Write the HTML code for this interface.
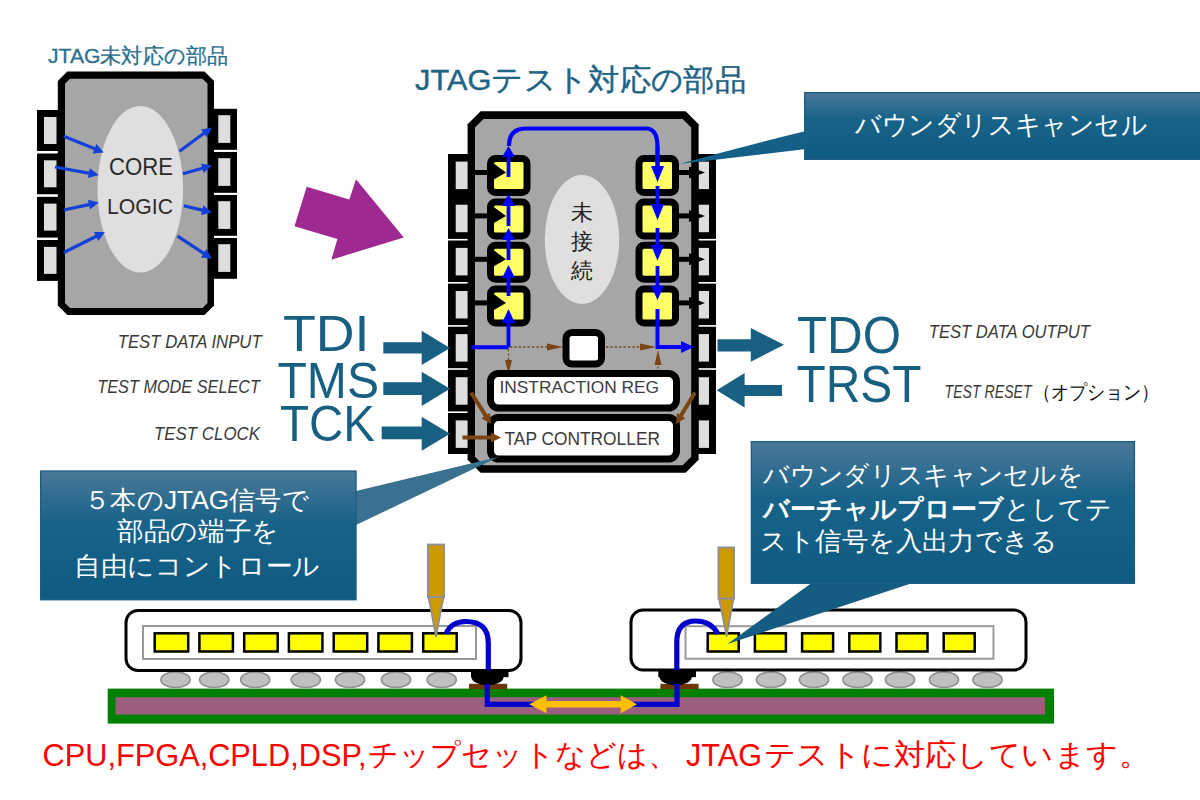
<!DOCTYPE html>
<html><head><meta charset="utf-8"><style>
html,body{margin:0;padding:0;background:#fff;}
svg{display:block;}
</style></head><body>
<svg width="1200" height="800" viewBox="0 0 1200 800">
<rect width="1200" height="800" fill="#fff"/>
<defs>
<linearGradient id="cg" x1="0" y1="0" x2="0" y2="1">
<stop offset="0" stop-color="#4b7897"/><stop offset="0.4" stop-color="#176389"/><stop offset="1" stop-color="#0f5a80"/>
</linearGradient>
</defs>
<g id="chipA">
<rect x="37" y="110.0" width="24" height="41" fill="#000"/>
<rect x="44" y="117.0" width="12.5" height="27" fill="#dedede"/>
<rect x="37" y="153.3" width="24" height="41" fill="#000"/>
<rect x="44" y="160.3" width="12.5" height="27" fill="#dedede"/>
<rect x="37" y="151.5" width="21" height="1.8" fill="#fff"/>
<rect x="37" y="196.6" width="24" height="41" fill="#000"/>
<rect x="44" y="203.6" width="12.5" height="27" fill="#dedede"/>
<rect x="37" y="194.8" width="21" height="1.8" fill="#fff"/>
<rect x="37" y="239.9" width="24" height="41" fill="#000"/>
<rect x="44" y="246.9" width="12.5" height="27" fill="#dedede"/>
<rect x="37" y="238.1" width="21" height="1.8" fill="#fff"/>
<rect x="210" y="108.8" width="27" height="41" fill="#000"/>
<rect x="218.3" y="115.2" width="12" height="27.7" fill="#dedede"/>
<rect x="210" y="151.8" width="27" height="41" fill="#000"/>
<rect x="218.3" y="158.2" width="12" height="27.7" fill="#dedede"/>
<rect x="214" y="150.2" width="23" height="1.6" fill="#fff"/>
<rect x="210" y="194.8" width="27" height="41" fill="#000"/>
<rect x="218.3" y="201.2" width="12" height="27.7" fill="#dedede"/>
<rect x="214" y="193.2" width="23" height="1.6" fill="#fff"/>
<rect x="210" y="237.8" width="27" height="41" fill="#000"/>
<rect x="218.3" y="244.2" width="12" height="27.7" fill="#dedede"/>
<rect x="214" y="236.2" width="23" height="1.6" fill="#fff"/>
<polygon points="67.3,71.6 204.5,71.6 214,81.1 214,305.5 204.5,315 67.3,315 57.8,305.5 57.8,81.1" fill="#000"/>
<polygon points="70,78.8 202.5,78.8 207.5,83.8 207.5,303 202.5,308 70,308 65,303 65,83.8" fill="#a6a6a6"/>
<ellipse cx="140.3" cy="189.3" rx="42.8" ry="83.3" fill="#dfdfdf"/>
<text x="109" y="174.5" font-family='"Liberation Sans", sans-serif' font-size="23" fill="#2a2a2a" textLength="64" lengthAdjust="spacingAndGlyphs">CORE</text>
<text x="107" y="213.8" font-family='"Liberation Sans", sans-serif' font-size="22" fill="#2a2a2a" textLength="66" lengthAdjust="spacingAndGlyphs">LOGIC</text>
<line x1="63.8" y1="136.2" x2="95.4" y2="149.1" stroke="#1340d8" stroke-width="3.2"/><polygon points="103.8,152.5 92.6,153.4 96.4,144.1" fill="#1340d8"/>
<line x1="55.0" y1="167.0" x2="89.9" y2="173.4" stroke="#1340d8" stroke-width="3.2"/><polygon points="98.8,175.0 88.0,178.1 89.8,168.3" fill="#1340d8"/>
<line x1="63.8" y1="210.0" x2="89.9" y2="204.4" stroke="#1340d8" stroke-width="3.2"/><polygon points="98.8,202.5 90.0,209.5 87.9,199.7" fill="#1340d8"/>
<line x1="63.8" y1="252.5" x2="96.9" y2="236.0" stroke="#1340d8" stroke-width="3.2"/><polygon points="105.0,232.0 98.3,240.9 93.8,232.0" fill="#1340d8"/>
<line x1="179.5" y1="151.2" x2="204.7" y2="132.8" stroke="#1340d8" stroke-width="3.2"/><polygon points="212.0,127.5 206.9,137.4 201.0,129.4" fill="#1340d8"/>
<line x1="183.0" y1="173.8" x2="203.3" y2="168.0" stroke="#1340d8" stroke-width="3.2"/><polygon points="212.0,165.5 203.7,173.0 201.0,163.4" fill="#1340d8"/>
<line x1="183.8" y1="205.8" x2="203.2" y2="210.4" stroke="#1340d8" stroke-width="3.2"/><polygon points="212.0,212.5 201.1,215.0 203.4,205.3" fill="#1340d8"/>
<line x1="177.5" y1="236.2" x2="204.5" y2="253.8" stroke="#1340d8" stroke-width="3.2"/><polygon points="212.0,258.8 200.9,257.5 206.4,249.1" fill="#1340d8"/>
</g>
<text x="48" y="63.3" font-family='"Liberation Sans", sans-serif' font-size="21" fill="#2a6f8f" stroke="#2a6f8f" stroke-width="0.3" textLength="180" lengthAdjust="spacingAndGlyphs">JTAG未対応の部品</text>
<text x="415" y="89.8" font-family='"Liberation Sans", sans-serif' font-size="29.5" fill="#1f6385" stroke="#1f6385" stroke-width="0.4" textLength="331" lengthAdjust="spacingAndGlyphs">JTAGテスト対応の部品</text>
<polygon points="306.7,186.8 349.3,199.6 356,179.3 403.75,237.5 331.4,259.7 337.4,239 294.5,226.25" fill="#9e2a91"/>
<g id="chipB">
<rect x="448" y="154" width="30" height="300" fill="#000"/>
<rect x="688" y="154" width="28" height="300" fill="#000"/>
<rect x="455.7" y="161.6" width="12.5" height="27.5" fill="#dedede"/>
<rect x="698.5" y="161.6" width="10.5" height="27.5" fill="#dedede"/>
<rect x="455.7" y="204.7" width="12.5" height="27.5" fill="#dedede"/>
<rect x="698.5" y="204.7" width="10.5" height="27.5" fill="#dedede"/>
<rect x="455.7" y="247.9" width="12.5" height="27.5" fill="#dedede"/>
<rect x="698.5" y="247.9" width="10.5" height="27.5" fill="#dedede"/>
<rect x="448" y="238.9" width="20" height="1.6" fill="#fff"/>
<rect x="698" y="238.9" width="18" height="1.6" fill="#fff"/>
<rect x="455.7" y="291.0" width="12.5" height="27.5" fill="#dedede"/>
<rect x="698.5" y="291.0" width="10.5" height="27.5" fill="#dedede"/>
<rect x="448" y="282.0" width="20" height="1.6" fill="#fff"/>
<rect x="698" y="282.0" width="18" height="1.6" fill="#fff"/>
<rect x="455.7" y="334.1" width="12.5" height="27.5" fill="#dedede"/>
<rect x="698.5" y="334.1" width="10.5" height="27.5" fill="#dedede"/>
<rect x="448" y="325.1" width="20" height="1.6" fill="#fff"/>
<rect x="698" y="325.1" width="18" height="1.6" fill="#fff"/>
<rect x="455.7" y="377.2" width="12.5" height="27.5" fill="#dedede"/>
<rect x="698.5" y="377.2" width="10.5" height="27.5" fill="#dedede"/>
<rect x="448" y="368.2" width="20" height="1.6" fill="#fff"/>
<rect x="698" y="368.2" width="18" height="1.6" fill="#fff"/>
<rect x="455.7" y="420.4" width="12.5" height="27.5" fill="#dedede"/>
<rect x="698.5" y="420.4" width="10.5" height="27.5" fill="#dedede"/>
<rect x="448" y="411.4" width="20" height="1.6" fill="#fff"/>
<polygon points="480.6,111.3 685.6,111.3 698.6,124.3 698.6,459.7 685.6,472.7 480.6,472.7 467.6,459.7 467.6,124.3" fill="#000"/>
<polygon points="483.5,118.9 682.7,118.9 691.2,127.4 691.2,456.7 682.7,465.2 483.5,465.2 475,456.7 475,127.4" fill="#a6a6a6"/>
<ellipse cx="582" cy="239.5" rx="37.2" ry="64.5" fill="#dfdfdf"/>
<text x="582" y="220" font-family='"Liberation Sans", sans-serif' font-size="22" fill="#222" text-anchor="middle">未</text>
<text x="582" y="249" font-family='"Liberation Sans", sans-serif' font-size="22" fill="#222" text-anchor="middle">接</text>
<text x="582" y="278" font-family='"Liberation Sans", sans-serif' font-size="22" fill="#222" text-anchor="middle">続</text>
<rect x="474" y="170.0" width="16" height="5" fill="#000"/>
<rect x="677" y="170.0" width="16" height="5" fill="#000"/>
<rect x="490.5" y="158.5" width="36.5" height="34" rx="5" fill="#ffff66" stroke="#000" stroke-width="7"/>
<rect x="639.0" y="158.5" width="36.5" height="34" rx="5" fill="#ffff66" stroke="#000" stroke-width="7"/>
<polygon points="493,163.0 506,172.5 493,180.0" fill="#000"/>
<polygon points="689,166.5 705,172.5 689,178.5" fill="#000"/>
<rect x="474" y="213.4" width="16" height="5" fill="#000"/>
<rect x="677" y="213.4" width="16" height="5" fill="#000"/>
<rect x="490.5" y="201.9" width="36.5" height="34" rx="5" fill="#ffff66" stroke="#000" stroke-width="7"/>
<rect x="639.0" y="201.9" width="36.5" height="34" rx="5" fill="#ffff66" stroke="#000" stroke-width="7"/>
<polygon points="493,206.4 506,215.9 493,223.4" fill="#000"/>
<polygon points="689,209.9 705,215.9 689,221.9" fill="#000"/>
<rect x="474" y="256.8" width="16" height="5" fill="#000"/>
<rect x="677" y="256.8" width="16" height="5" fill="#000"/>
<rect x="490.5" y="245.3" width="36.5" height="34" rx="5" fill="#ffff66" stroke="#000" stroke-width="7"/>
<rect x="639.0" y="245.3" width="36.5" height="34" rx="5" fill="#ffff66" stroke="#000" stroke-width="7"/>
<polygon points="493,249.8 506,259.3 493,266.8" fill="#000"/>
<polygon points="689,253.3 705,259.3 689,265.3" fill="#000"/>
<rect x="474" y="300.4" width="16" height="5" fill="#000"/>
<rect x="677" y="300.4" width="16" height="5" fill="#000"/>
<rect x="490.5" y="288.9" width="36.5" height="34" rx="5" fill="#ffff66" stroke="#000" stroke-width="7"/>
<rect x="639.0" y="288.9" width="36.5" height="34" rx="5" fill="#ffff66" stroke="#000" stroke-width="7"/>
<polygon points="493,293.4 506,302.9 493,310.4" fill="#000"/>
<polygon points="689,296.9 705,302.9 689,308.9" fill="#000"/>
<path d="M509,146 Q509,128.5 526,128.5 L646,128.5 Q657.5,128.5 657.5,147 L657.5,170" fill="none" stroke="#0000ff" stroke-width="4.2"/>
<rect x="506.6" y="156" width="3.8" height="21" fill="#0000ff"/>
<polygon points="502,157 508.5,146 515,157" fill="#0000ff"/>
<rect x="506.6" y="205" width="3.8" height="21" fill="#0000ff"/>
<polygon points="502,206 508.5,194 515,206" fill="#0000ff"/>
<rect x="506.6" y="239" width="3.8" height="21" fill="#0000ff"/>
<polygon points="502,240 508.5,228 515,240" fill="#0000ff"/>
<rect x="506.6" y="277" width="3.8" height="19" fill="#0000ff"/>
<polygon points="502,278 508.5,265 515,278" fill="#0000ff"/>
<rect x="506.6" y="322" width="3.8" height="25" fill="#0000ff"/>
<polygon points="502,323 508.5,309 515,323" fill="#0000ff"/>
<path d="M471.5,347.2 L508.5,347.2" fill="none" stroke="#0000ff" stroke-width="4"/>
<rect x="655.6" y="147" width="3.8" height="20" fill="#0000ff"/>
<polygon points="651,166 657.5,182 664,166" fill="#0000ff"/>
<rect x="655.6" y="186" width="3.8" height="19" fill="#0000ff"/>
<polygon points="651,204 657.5,220 664,204" fill="#0000ff"/>
<rect x="655.6" y="228" width="3.8" height="18" fill="#0000ff"/>
<polygon points="651,245 657.5,260.7 664,245" fill="#0000ff"/>
<rect x="655.6" y="266" width="3.8" height="20.69999999999999" fill="#0000ff"/>
<polygon points="651,285.7 657.5,300 664,285.7" fill="#0000ff"/>
<path d="M657.5,309 L657.5,347 L682,347" fill="none" stroke="#0000ff" stroke-width="4"/>
<polygon points="681,341 694,347 681,353" fill="#0000ff"/>
<line x1="510" y1="347" x2="548" y2="347" stroke="#7a4413" stroke-width="1.3" stroke-dasharray="2.2,2.2"/>
<polygon points="547,343.5 563,347 547,350.5" fill="#7a4413"/>
<line x1="606" y1="347" x2="641" y2="347" stroke="#7a4413" stroke-width="1.3" stroke-dasharray="2.2,2.2"/>
<polygon points="640,343.5 656,347 640,350.5" fill="#7a4413"/>
<line x1="508.5" y1="349" x2="508.5" y2="362" stroke="#7a4413" stroke-width="1.3" stroke-dasharray="2.2,2.2"/>
<polygon points="505,360 508.5,374 512,360" fill="#7a4413"/>
<line x1="658" y1="362" x2="658" y2="374" stroke="#7a4413" stroke-width="1.3" stroke-dasharray="2.2,2.2"/>
<polygon points="654.5,365 658,350 661.5,365" fill="#7a4413"/>
<rect x="566" y="332.5" width="35.5" height="31.5" rx="6" fill="#fff" stroke="#000" stroke-width="7"/>
<rect x="490.5" y="373.5" width="186" height="34.5" rx="8" fill="#fff" stroke="#000" stroke-width="7"/>
<text x="499.5" y="392.5" font-family='"Liberation Sans", sans-serif' font-size="17" fill="#3c3c3c" textLength="159.5" lengthAdjust="spacingAndGlyphs">INSTRACTION REG</text>
<rect x="490.5" y="417.5" width="186" height="41.5" rx="8" fill="#fff" stroke="#000" stroke-width="7"/>
<text x="504.5" y="444.5" font-family='"Liberation Sans", sans-serif' font-size="18" fill="#3a3a3a" textLength="155.5" lengthAdjust="spacingAndGlyphs">TAP CONTROLLER</text>
<line x1="471.0" y1="392.5" x2="486.2" y2="416.4" stroke="#7a4413" stroke-width="4"/><polygon points="491.0,424.0 481.4,418.2 489.9,412.9" fill="#7a4413"/>
<line x1="462.5" y1="437.5" x2="492.0" y2="437.5" stroke="#7a4413" stroke-width="4"/><polygon points="501.0,437.5 491.0,442.5 491.0,432.5" fill="#7a4413"/>
<line x1="695.0" y1="392.5" x2="680.6" y2="416.3" stroke="#7a4413" stroke-width="4"/><polygon points="676.0,424.0 676.9,412.9 685.4,418.0" fill="#7a4413"/>
</g>
<polygon points="383.3,342.2 421.7,342.2 421.7,330.7 450,348 421.7,365 421.7,353.6 383.3,353.6" fill="#186082"/>
<polygon points="383.3,382.2 421.7,382.2 421.7,371.7 450,388.8 421.7,406 421.7,395 383.3,395" fill="#186082"/>
<polygon points="381.7,426.5 421.7,426.5 421.7,416.7 450,433.7 421.7,450.7 421.7,439.3 381.7,439.3" fill="#186082"/>
<polygon points="717.5,339.3 750.8,339.3 750.8,328 784,344.8 750.8,361.7 750.8,351.5 717.5,351.5" fill="#186082"/>
<polygon points="716.7,390.2 744.6,373 744.6,385 782,385 782,396 744.6,396 744.6,407.5" fill="#186082"/>
<text x="283" y="350.7" font-family='"Liberation Sans", sans-serif' font-size="49.5" fill="#186082" textLength="86.5" lengthAdjust="spacingAndGlyphs">TDI</text>
<text x="277.5" y="398.2" font-family='"Liberation Sans", sans-serif' font-size="49.5" fill="#186082" textLength="101.5" lengthAdjust="spacingAndGlyphs">TMS</text>
<text x="280" y="441" font-family='"Liberation Sans", sans-serif' font-size="49.5" fill="#186082" textLength="95" lengthAdjust="spacingAndGlyphs">TCK</text>
<text x="797" y="353.3" font-family='"Liberation Sans", sans-serif' font-size="51" fill="#186082" textLength="104" lengthAdjust="spacingAndGlyphs">TDO</text>
<text x="796.5" y="401.7" font-family='"Liberation Sans", sans-serif' font-size="51" fill="#186082" textLength="125" lengthAdjust="spacingAndGlyphs">TRST</text>
<text x="117.7" y="348.3" font-family='"Liberation Sans", sans-serif' font-size="18" font-style="italic" fill="#3a3a3a" textLength="144" lengthAdjust="spacingAndGlyphs">TEST DATA INPUT</text>
<text x="97.3" y="392.7" font-family='"Liberation Sans", sans-serif' font-size="18" font-style="italic" fill="#3a3a3a" textLength="162.7" lengthAdjust="spacingAndGlyphs">TEST MODE SELECT</text>
<text x="154" y="440" font-family='"Liberation Sans", sans-serif' font-size="18" font-style="italic" fill="#3a3a3a" textLength="106" lengthAdjust="spacingAndGlyphs">TEST CLOCK</text>
<text x="928.75" y="338" font-family='"Liberation Sans", sans-serif' font-size="18" font-style="italic" fill="#3a3a3a" textLength="161.25" lengthAdjust="spacingAndGlyphs">TEST DATA OUTPUT</text>
<text x="944.6" y="398" font-family='"Liberation Sans", sans-serif' font-size="18" font-style="italic" fill="#3a3a3a" textLength="87" lengthAdjust="spacingAndGlyphs">TEST RESET</text>
<text x="1033" y="399" font-family='"Liberation Sans", sans-serif' font-size="20" fill="#111" textLength="126" lengthAdjust="spacingAndGlyphs">（オプション）</text>
<rect x="107.7" y="688.6" width="946.3" height="35" fill="#008000"/>
<rect x="115.5" y="697.2" width="929.5" height="17.4" fill="#9a5f7e"/>
<ellipse cx="175.5" cy="679.7" rx="14.6" ry="7.8" fill="#c0c0c0" stroke="#8f8f8f" stroke-width="1.6"/>
<ellipse cx="214.2" cy="679.7" rx="14.6" ry="7.8" fill="#c0c0c0" stroke="#8f8f8f" stroke-width="1.6"/>
<ellipse cx="255.2" cy="679.7" rx="14.6" ry="7.8" fill="#c0c0c0" stroke="#8f8f8f" stroke-width="1.6"/>
<ellipse cx="305.8" cy="679.7" rx="14.6" ry="7.8" fill="#c0c0c0" stroke="#8f8f8f" stroke-width="1.6"/>
<ellipse cx="350" cy="679.7" rx="14.6" ry="7.8" fill="#c0c0c0" stroke="#8f8f8f" stroke-width="1.6"/>
<ellipse cx="396" cy="679.7" rx="14.6" ry="7.8" fill="#c0c0c0" stroke="#8f8f8f" stroke-width="1.6"/>
<ellipse cx="441.7" cy="679.7" rx="14.6" ry="7.8" fill="#c0c0c0" stroke="#8f8f8f" stroke-width="1.6"/>
<ellipse cx="727.5" cy="679.7" rx="14.6" ry="7.8" fill="#c0c0c0" stroke="#8f8f8f" stroke-width="1.6"/>
<ellipse cx="771" cy="679.7" rx="14.6" ry="7.8" fill="#c0c0c0" stroke="#8f8f8f" stroke-width="1.6"/>
<ellipse cx="814" cy="679.7" rx="14.6" ry="7.8" fill="#c0c0c0" stroke="#8f8f8f" stroke-width="1.6"/>
<ellipse cx="857.5" cy="679.7" rx="14.6" ry="7.8" fill="#c0c0c0" stroke="#8f8f8f" stroke-width="1.6"/>
<ellipse cx="900" cy="679.7" rx="14.6" ry="7.8" fill="#c0c0c0" stroke="#8f8f8f" stroke-width="1.6"/>
<ellipse cx="944" cy="679.7" rx="14.6" ry="7.8" fill="#c0c0c0" stroke="#8f8f8f" stroke-width="1.6"/>
<ellipse cx="987.5" cy="679.7" rx="14.6" ry="7.8" fill="#c0c0c0" stroke="#8f8f8f" stroke-width="1.6"/>
<rect x="126" y="610.5" width="395" height="60" rx="12" fill="#fff" stroke="#000" stroke-width="3"/>
<rect x="143" y="626" width="333" height="33" fill="none" stroke="#999" stroke-width="2"/>
<rect x="154.7" y="633.3" width="33.5" height="18.2" fill="#ffff00" stroke="#000" stroke-width="2.5"/>
<rect x="199.4" y="633.3" width="33.5" height="18.2" fill="#ffff00" stroke="#000" stroke-width="2.5"/>
<rect x="244.2" y="633.3" width="33.5" height="18.2" fill="#ffff00" stroke="#000" stroke-width="2.5"/>
<rect x="288.9" y="633.3" width="33.5" height="18.2" fill="#ffff00" stroke="#000" stroke-width="2.5"/>
<rect x="333.7" y="633.3" width="33.5" height="18.2" fill="#ffff00" stroke="#000" stroke-width="2.5"/>
<rect x="378.4" y="633.3" width="33.5" height="18.2" fill="#ffff00" stroke="#000" stroke-width="2.5"/>
<rect x="423.2" y="633.3" width="33.5" height="18.2" fill="#ffff00" stroke="#000" stroke-width="2.5"/>
<rect x="631" y="610" width="395" height="60" rx="12" fill="#fff" stroke="#000" stroke-width="3"/>
<rect x="685.5" y="626.2" width="308" height="32.5" fill="none" stroke="#999" stroke-width="2"/>
<rect x="707.7" y="633.3" width="31" height="18.2" fill="#ffff00" stroke="#000" stroke-width="2.5"/>
<rect x="754.9" y="633.3" width="31" height="18.2" fill="#ffff00" stroke="#000" stroke-width="2.5"/>
<rect x="802.1" y="633.3" width="31" height="18.2" fill="#ffff00" stroke="#000" stroke-width="2.5"/>
<rect x="849.3" y="633.3" width="31" height="18.2" fill="#ffff00" stroke="#000" stroke-width="2.5"/>
<rect x="896.5" y="633.3" width="31" height="18.2" fill="#ffff00" stroke="#000" stroke-width="2.5"/>
<rect x="943.7" y="633.3" width="31" height="18.2" fill="#ffff00" stroke="#000" stroke-width="2.5"/>
<rect x="469" y="683.8" width="38.2" height="5.3" fill="#6b3708"/>
<rect x="471" y="669" width="37.5" height="8.2" fill="#000"/>
<path d="M471.3,676.5 A16.2,9 0 0 0 503.7,676.5 Z" fill="#000"/>
<rect x="660.4" y="683.8" width="38.2" height="5.3" fill="#6b3708"/>
<rect x="658.3" y="669" width="37.700000000000045" height="8.2" fill="#000"/>
<path d="M659.5,676.5 A16.2,9 0 0 0 691.9000000000001,676.5 Z" fill="#000"/>
<path d="M446,634 Q451,621.5 466,621.5 Q488.3,621.5 488.3,643 L488.3,670 M487.3,684 L487.3,704.3 L677,704.3 L677,684 M676.8,670 L676.8,642 Q676.8,621 696,621 Q711,621 718,634" fill="none" stroke="#0000cc" stroke-width="5.2"/>
<polygon points="529.2,704.3 546.5,695.3 546.5,701 620.7,701 620.7,695.3 637,704.3 620.7,713.3 620.7,707.6 546.5,707.6 546.5,713.3" fill="#ffc000"/>
<polygon points="428.5,597 443.5,597 436,636.6" fill="#cc9900" stroke="#8f8f8f" stroke-width="1.8" stroke-linejoin="round"/>
<rect x="428" y="544.6" width="16" height="52.39999999999998" fill="#cc9900" stroke="#8f8f8f" stroke-width="2"/>
<polygon points="719.0,598.5 733.5,598.5 726.6,636" fill="#cc9900" stroke="#8f8f8f" stroke-width="1.8" stroke-linejoin="round"/>
<rect x="718.5" y="547.5" width="15.5" height="51.0" fill="#cc9900" stroke="#8f8f8f" stroke-width="2"/>
<path d="M804,131.5 Q740,147 680.5,163.8 Q740,157 804,149.2 Z" fill="#145f86"/>
<rect x="804.7" y="92.7" width="396" height="66.6" fill="url(#cg)" stroke="#1d5f80" stroke-width="1.4"/>
<text x="855" y="134" font-family='"Liberation Sans", sans-serif' font-size="27" fill="#fff" textLength="292.5" lengthAdjust="spacingAndGlyphs">バウンダリスキャンセル</text>
<path d="M356,491 L499,456.7 L356,525 Z" fill="#3a7090"/>
<rect x="40.7" y="471.1" width="315.3" height="128.6" fill="url(#cg)" stroke="#1d5f80" stroke-width="1.4"/>
<text x="84" y="508.5" font-family='"Liberation Sans", sans-serif' font-size="26" fill="#fff" textLength="225" lengthAdjust="spacingAndGlyphs">５本のJTAG信号で</text>
<text x="117" y="540" font-family='"Liberation Sans", sans-serif' font-size="26" fill="#fff" textLength="162" lengthAdjust="spacingAndGlyphs">部品の端子を</text>
<text x="74" y="574.5" font-family='"Liberation Sans", sans-serif' font-size="26" fill="#fff" textLength="246" lengthAdjust="spacingAndGlyphs">自由にコントロール</text>
<path d="M811.5,583 L727.5,644 L912.5,583 Z" fill="#145c82"/>
<rect x="751.4" y="441.7" width="383" height="141.6" fill="url(#cg)" stroke="#1d5f80" stroke-width="1.4"/>
<text x="763.3" y="483.5" font-family='"Liberation Sans", sans-serif' font-size="26" fill="#fff" textLength="320" lengthAdjust="spacingAndGlyphs">バウンダリスキャンセルを</text>
<text x="763.3" y="518" font-family='"Liberation Sans", sans-serif' font-size="26" fill="#fff"><tspan font-weight="bold">バーチャルプローブ</tspan>としてテ</text>
<text x="760.3" y="550" font-family='"Liberation Sans", sans-serif' font-size="26" fill="#fff" textLength="297" lengthAdjust="spacingAndGlyphs">スト信号を入出力できる</text>
<text x="42.5" y="766" font-family='"Liberation Sans", sans-serif' font-size="31" fill="#ff0000" textLength="324" lengthAdjust="spacingAndGlyphs">CPU,FPGA,CPLD,DSP,</text>
<text x="368" y="765" font-family='"Liberation Sans", sans-serif' font-size="29.5" fill="#ff0000" textLength="310" lengthAdjust="spacingAndGlyphs">チップセットなどは、</text>
<text x="686" y="766" font-family='"Liberation Sans", sans-serif' font-size="31" fill="#ff0000" textLength="76" lengthAdjust="spacingAndGlyphs">JTAG</text>
<text x="764" y="765" font-family='"Liberation Sans", sans-serif' font-size="29.5" fill="#ff0000" textLength="386" lengthAdjust="spacingAndGlyphs">テストに対応しています。</text>
</svg>
</body></html>
